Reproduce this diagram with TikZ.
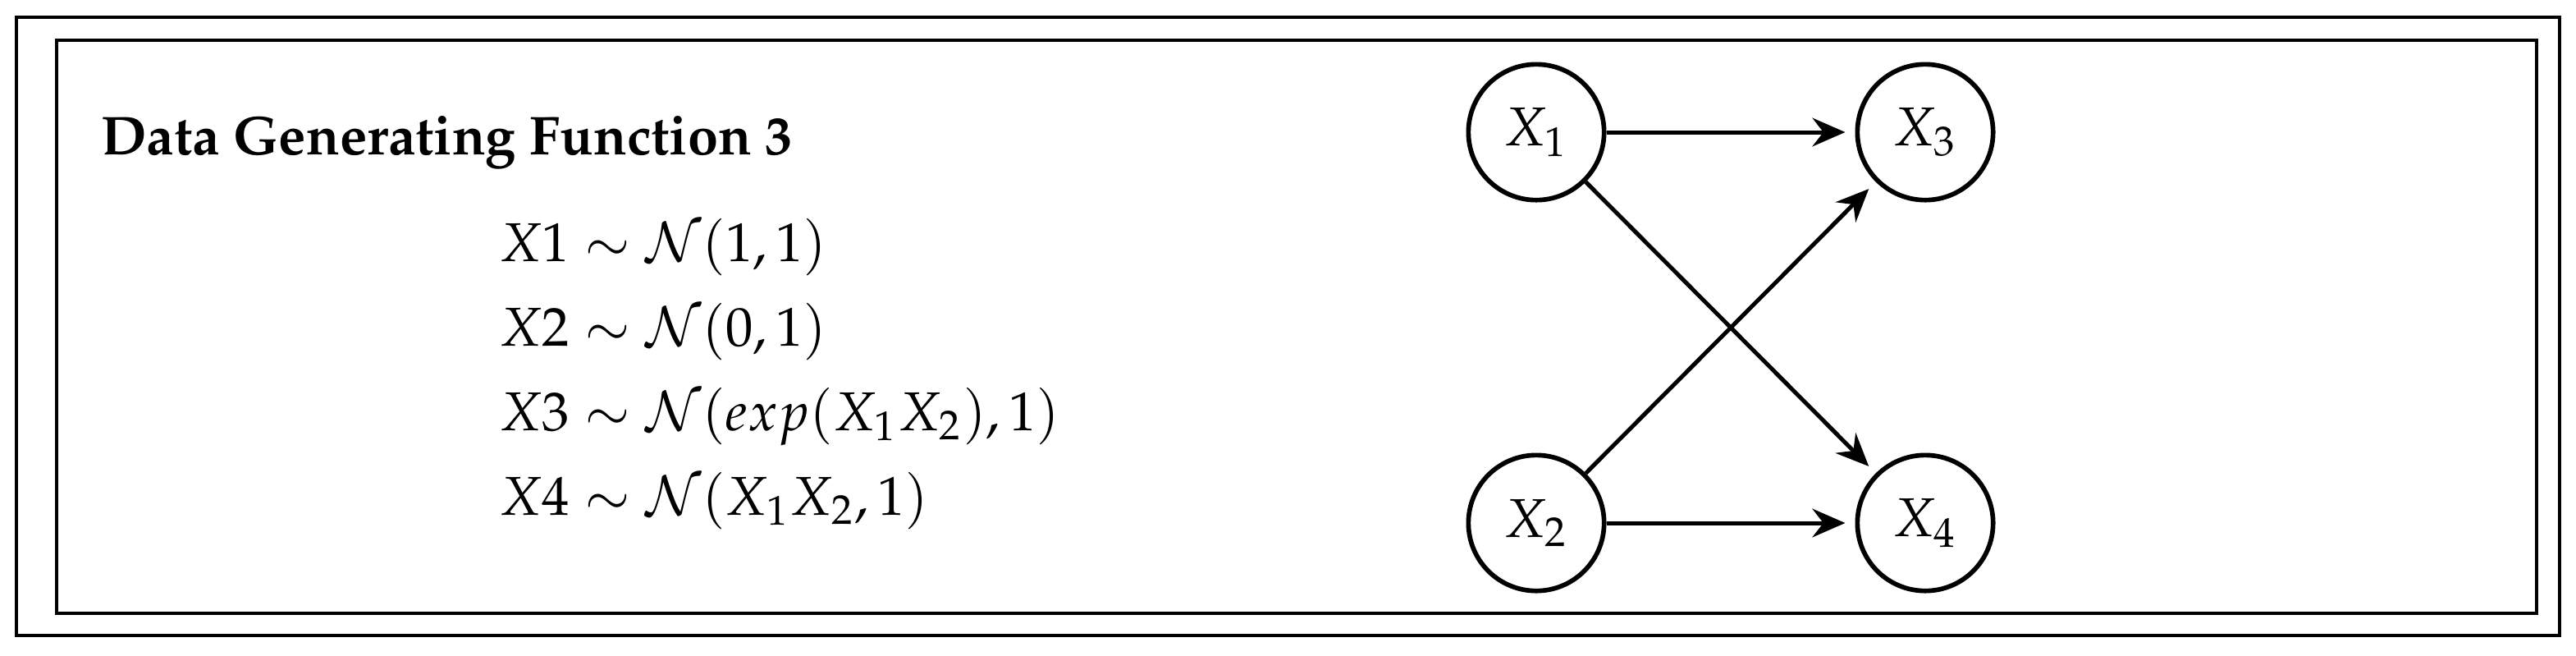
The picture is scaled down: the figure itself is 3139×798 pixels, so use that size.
\documentclass[tikz,border=0pt]{standalone}
\usepackage[T1]{fontenc}
\usepackage{mathpazo}
\usetikzlibrary{arrows.meta}
\tikzset{
  frame/.style={draw=black, line width=0.72pt},
  var/.style={circle, draw=black, line width=0.85pt, minimum size=24.8pt, inner sep=0pt, font=\fontsize{10}{12}\selectfont},
  edge/.style={line width=0.75pt, -{Stealth[length=6pt,width=5.2pt,inset=2pt]}, shorten >=1.8pt},
  eqline/.style={anchor=base west, inner sep=0pt, font=\fontsize{10}{12}\selectfont},
}
\begin{document}
\begin{tikzpicture}[x=0.15pt, y=-0.15pt]
\useasboundingbox (0,0) rectangle (3139,798);
\draw[frame] (20,21) rectangle (3119,774);
\draw[frame] (69,49) rectangle (3091,747);
\node[eqline] (title) at (122,188) {\textbf{Data Generating Function 3}};
\node[eqline] (e1) at (607,318) {$X1 \sim \mathcal{N}(1,1)$};
\node[eqline] (e2) at (607,421) {$X2 \sim \mathcal{N}(0,1)$};
\node[eqline] (e3) at (607,524) {$X3 \sim \mathcal{N}(exp(X_1X_2),1)$};
\node[eqline] (e4) at (607,627) {$X4 \sim \mathcal{N}(X_1X_2,1)$};
\node[var] (x1) at (1872,161) {$X_1$};
\node[var] (x3) at (2346,161) {$X_3$};
\node[var] (x2) at (1872,637) {$X_2$};
\node[var] (x4) at (2346,637) {$X_4$};
\draw[edge] (x1) -- (x3);
\draw[edge] (x1) -- (x4);
\draw[edge] (x2) -- (x3);
\draw[edge] (x2) -- (x4);
\end{tikzpicture}
\end{document}
